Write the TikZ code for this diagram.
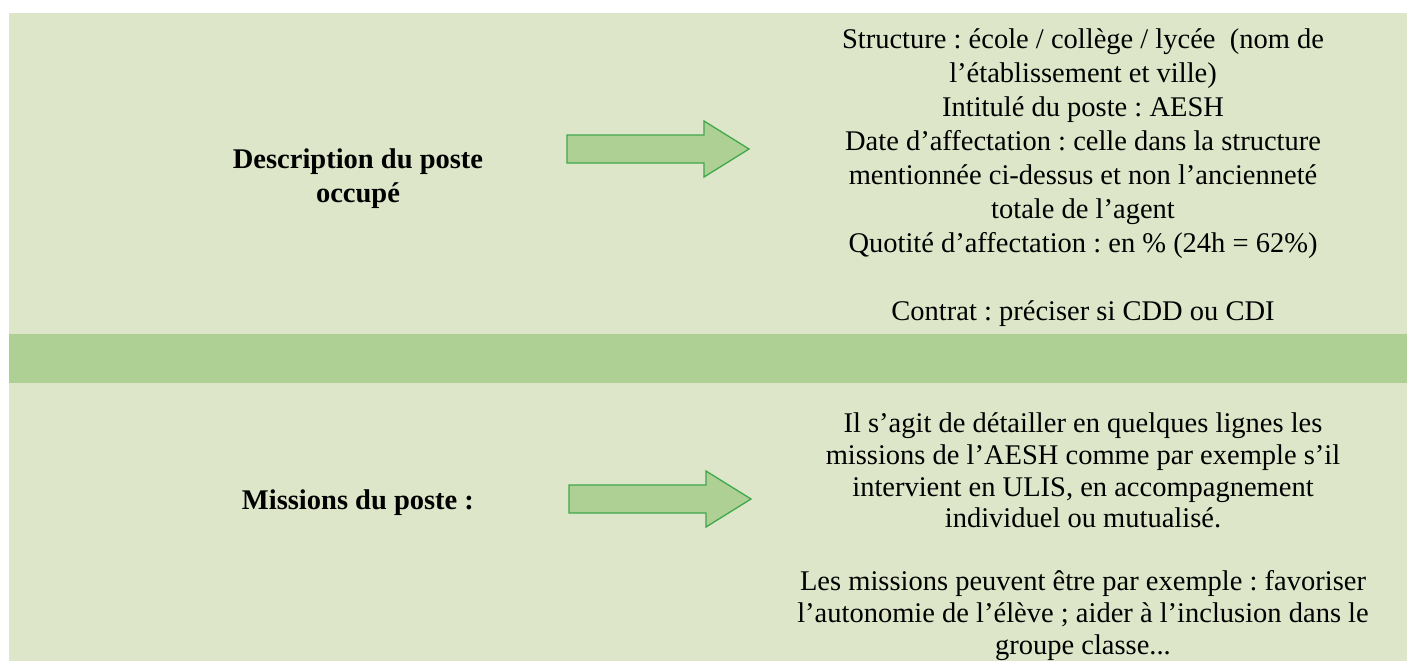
\documentclass[tikz,border=0pt]{standalone}
\usepackage{fontspec}
\setmainfont{Liberation Serif}
\usepackage{tikz}
\frenchspacing

\definecolor{lightband}{RGB}{221,230,200}
\definecolor{darkband}{RGB}{174,208,148}
\definecolor{arrowline}{RGB}{62,168,76}

\begin{document}
\begin{tikzpicture}[x=1pt,y=-1pt]
        \tikzset{band/.style = {fill=lightband,draw=none}}
        \tikzset{sep/.style = {fill=darkband,draw=none}}
        \tikzset{bigarrow/.style = {fill=darkband,draw=arrowline,line width=1.3pt,line join=miter}}
        \tikzset{title/.style = {align=center,anchor=base,inner sep=0pt,font=\fontsize{28.5}{34}\selectfont\bfseries}}
        \tikzset{info/.style = {align=center,anchor=base,inner sep=0pt,font=\fontsize{28.5}{34}\selectfont}}
        \useasboundingbox (0,0) rectangle (1407,661);
        % background
        \fill[white] (0,0) rectangle (1407,661);
        \fill[band] (9,13) rectangle (1407,661);
        \fill[sep] (9,334) rectangle (1407,383);
        % arrows
        \draw[bigarrow] (567,135) -- (704,135) -- (704,121) -- (749,149) -- (704,177) -- (704,163) -- (567,163) -- cycle;
        \draw[bigarrow] (569,485) -- (706,485) -- (706,471) -- (751,499) -- (706,527) -- (706,513) -- (569,513) -- cycle;
        % texts (anchored on the last line)
        \node[title] (desc) at (358,202) {Description du poste\\occupé};
        \node[title] (miss) at (358,509) {Missions du poste :};
        \node[info] (descinfo) at (1083,320) {Structure : école / collège / lycée \ (nom de\\
            l’établissement et ville)\\
            Intitulé du poste : AESH\\
            Date d’affectation : celle dans la structure\\
            mentionnée ci-dessus et non l’ancienneté\\
            totale de l’agent\\
            Quotité d’affectation : en \% (24h = 62\%)\\[34pt]
            Contrat : préciser si CDD ou CDI};
        \node[info,font=\fontsize{28.5}{31.6}\selectfont] (missinfo) at (1083,654) {Il s’agit de détailler en quelques lignes les\\
            missions de l’AESH comme par exemple s’il\\
            intervient en ULIS, en accompagnement\\
            individuel ou mutualisé.\\[31.6pt]
            Les missions peuvent être par exemple : favoriser\\
            l’autonomie de l’élève ; aider à l’inclusion dans le\\
            groupe classe...};
\end{tikzpicture}
\end{document}
